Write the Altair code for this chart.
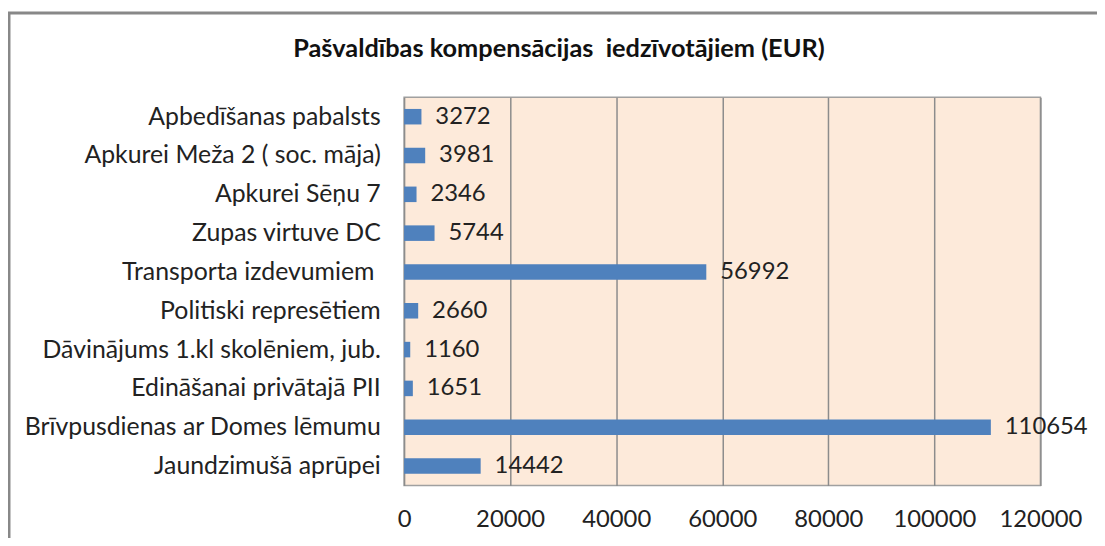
import altair as alt
import pandas as pd

categories = [
    "Apbedīšanas pabalsts",
    "Apkurei Meža 2 ( soc. māja)",
    "Apkurei Sēņu 7",
    "Zupas virtuve DC",
    "Transporta izdevumiem\u00a0\u200b",
    "Politiski represētiem",
    "Dāvinājums 1.kl skolēniem, jub.",
    "Edināšanai privātajā PII",
    "Brīvpusdienas ar Domes lēmumu",
    "Jaundzimušā aprūpei",
]
values = [3272, 3981, 2346, 5744, 56992, 2660, 1160, 1651, 110654, 14442]
x_ticks = [0, 20000, 40000, 60000, 80000, 100000, 120000]
title_text = "Pašvaldības kompensācijas\u00a0 iedzīvotājiem (EUR)"

df = pd.DataFrame({"cat": categories, "val": values})

FONT = "Lato"
TXT = "#222222"

y_enc = alt.Y(
    "cat:N",
    sort=categories,
    scale=alt.Scale(paddingInner=0.6, paddingOuter=0.3),
    axis=alt.Axis(
        title=None, ticks=False, domain=False, labelFont=FONT, labelFontSize=25,
        labelColor=TXT, labelPadding=24, labelLimit=450,
    ),
)
x_enc = alt.X(
    "val:Q",
    scale=alt.Scale(domain=[0, 120000], nice=False),
    axis=alt.Axis(
        title=None, values=x_ticks, ticks=False, domain=False, format="d",
        labelFont=FONT, labelFontSize=24, labelColor=TXT, labelPadding=22,
        gridColor="#8c8c8c", gridWidth=1.5, labelFlush=False,
    ),
)

bars = alt.Chart(df).mark_bar(color="#4F81BD").encode(x=x_enc, y=y_enc)
labels = alt.Chart(df).mark_text(
    align="left", baseline="middle", dx=14, font=FONT, fontSize=24, color=TXT
).encode(x="val:Q", y=alt.Y("cat:N", sort=categories), text=alt.Text("val:Q", format="d"))

frame_src = pd.DataFrame({"k": [0]})
frame_top = alt.Chart(frame_src).mark_rule(color="#888888", strokeWidth=3, clip=False).encode(
    x=alt.value(-399), x2=alt.value(800), y=alt.value(-85)
)
frame_left = alt.Chart(frame_src).mark_rule(color="#888888", strokeWidth=3, clip=False).encode(
    x=alt.value(-398), y=alt.value(-86), y2=alt.value(520)
)
title = alt.Chart(frame_src).mark_text(
    font=FONT, fontSize=25.5, fontWeight="bold", color="#111111", align="center", baseline="middle"
).encode(x=alt.value(156), y=alt.value(-49), text=alt.value(title_text))

chart = alt.layer(bars, labels, frame_top, frame_left, title).properties(
    width=641, height=391,
    background="white",
    autosize=alt.AutoSizeParams(type="none"),
    padding={"left": 399, "top": 88, "right": 57, "bottom": 51},
).configure_view(
    fill="#FDEADA", stroke="#a0a0a0", strokeWidth=1.5
)

chart.save("out.html", embed_options={"renderer": "svg", "actions": False})
